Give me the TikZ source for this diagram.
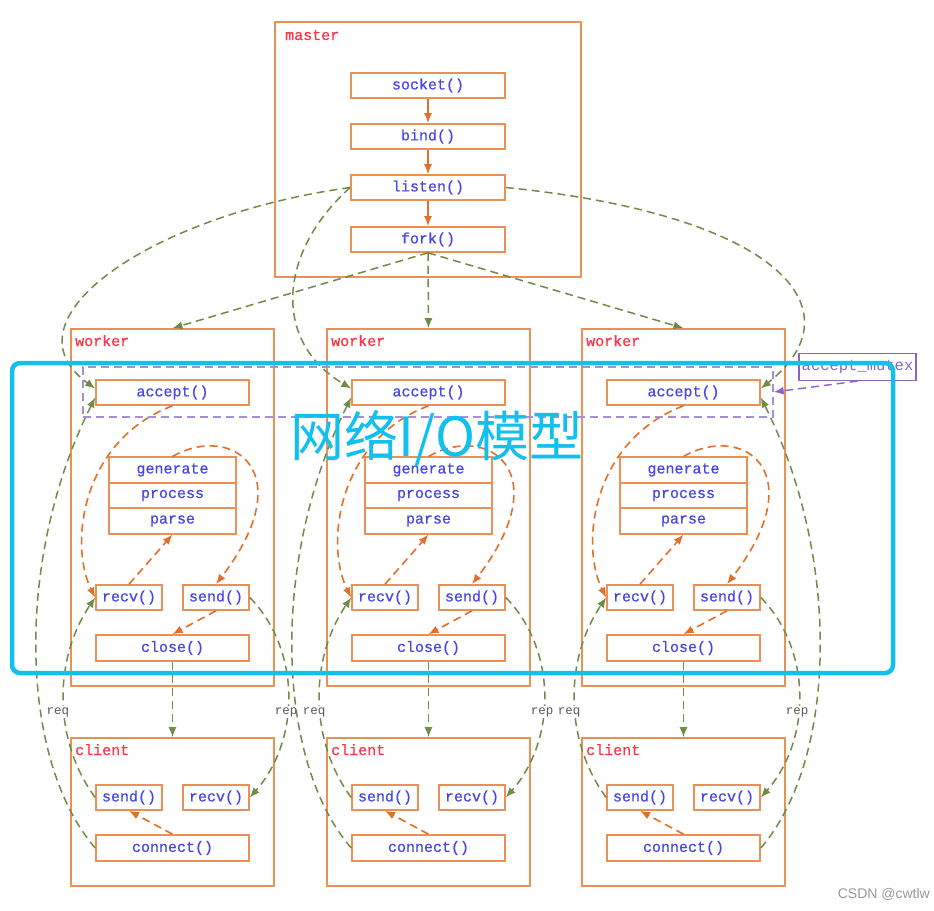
\documentclass[tikz,border=0pt]{standalone}
\usepackage{fontspec}
\setmainfont{Liberation Serif}
\newfontfamily\monof[FakeBold=0.6]{Liberation Mono}
\newfontfamily\labf{Liberation Mono}
\newfontfamily\cjkf{Noto Sans CJK SC}
\newfontfamily\sansf{Liberation Sans}
\usetikzlibrary{arrows.meta,calc}
\definecolor{boxor}{HTML}{EB9155}
\definecolor{arror}{HTML}{E0702A}
\definecolor{grn}{HTML}{6E8C46}
\definecolor{fnblue}{HTML}{4646E6}
\definecolor{ttlred}{HTML}{FF3246}
\definecolor{mpurple}{HTML}{A88ED6}
\definecolor{lpurple}{HTML}{8A66C2}
\definecolor{cyanc}{HTML}{12C0EE}
\begin{document}
\begin{tikzpicture}[x=1pt,y=-1pt,
  fn/.style={draw=boxor, line width=1.6pt, fill=white, text=fnblue,
    font=\monof\fontsize{15}{16}\selectfont, inner sep=0pt, minimum height=25pt},
  procbox/.style={draw=boxor, line width=1.6pt, inner sep=0pt},
  ttl/.style={text=ttlred, font=\monof\fontsize{15}{16}\selectfont, anchor=base west, inner sep=0pt},
  flow/.style={draw=arror, line width=1.6pt, -{Latex[length=10pt,width=8pt]}},
  oflow/.style={flow, dash pattern=on 8pt off 5pt},
  gflow/.style={draw=grn, line width=1.5pt, dash pattern=on 8pt off 5pt, -{Latex[length=10pt,width=8pt]}},
  lab/.style={text=black!65, font=\labf\fontsize{12.5}{13}\selectfont, fill=white, inner sep=1pt}]
\useasboundingbox (0,0) rectangle (934,910);
\fill[white] (0,0) rectangle (934,910);

% master
\node[procbox, minimum width=306pt, minimum height=255pt] (master) at (428,149.5) {};
\node[ttl] (mt) at (285,40) {master};
\node[fn, minimum width=154pt] (socket) at (428,85.5) {socket()};
\node[fn, minimum width=154pt] (bind) at (428,136.5) {bind()};
\node[fn, minimum width=154pt] (listen) at (428,187.5) {listen()};
\node[fn, minimum width=154pt] (fork) at (428,239.5) {fork()};
\draw[flow] (socket) -- (bind);
\draw[flow] (bind) -- (listen);
\draw[flow] (listen) -- (fork);

\foreach \i/\dx in {1/0,2/256,3/511}{
  \node[procbox, minimum width=203pt, minimum height=357pt] (work\i) at ({172.5+\dx},507.5) {};
  \node[ttl] (wt\i) at ({75+\dx},346) {worker};
  \node[fn, minimum width=153pt] (acc\i) at ({172.5+\dx},392.5) {accept()};
  \node[fn, minimum width=127pt, minimum height=25.5pt] (gen\i) at ({172.5+\dx},470) {generate};
  \node[fn, minimum width=127pt, minimum height=25.5pt] (proc\i) at ({172.5+\dx},495.5) {process};
  \node[fn, minimum width=127pt, minimum height=25.5pt] (parse\i) at ({172.5+\dx},521) {parse};
  \node[fn, minimum width=66pt] (recv\i) at ({129+\dx},597.5) {recv()};
  \node[fn, minimum width=66pt] (send\i) at ({216+\dx},597.5) {send()};
  \node[fn, minimum width=153pt, minimum height=26pt] (close\i) at ({172.5+\dx},648) {close()};
  % client
  \node[procbox, minimum width=203pt, minimum height=148pt] (cli\i) at ({172.5+\dx},812) {};
  \node[ttl] (ct\i) at ({75+\dx},755) {client};
  \node[fn, minimum width=66pt] (csend\i) at ({129+\dx},797.5) {send()};
  \node[fn, minimum width=66pt] (crecv\i) at ({216+\dx},797.5) {recv()};
  \node[fn, minimum width=153pt, minimum height=26pt] (conn\i) at ({172.5+\dx},848) {connect()};
  % inner flows
  \draw[oflow] (acc\i.south) .. controls +(-92,35) and +(-26,-52) .. (recv\i.west);
  \draw[oflow] (recv\i.north) -- (parse\i.south);
  \draw[oflow] (gen\i.north) .. controls +(60,-34) and +(86,-112) .. (send\i.north);
  \draw[oflow] (send\i.south) -- (close\i.north);
  \draw[gflow] (close\i.south) -- (cli\i.north);
  \draw[oflow] (conn\i.north) -- (csend\i.south);
  % req / rep
  \draw[gflow] (csend\i.west) .. controls +(-42,-57) and +(-42,62) .. (recv\i.west);
  \node[lab] (req\i) at ({58+\dx},712) {req};
  \draw[gflow] (send\i.east) .. controls +(51,52) and +(51,-58) .. (crecv\i.east);
  \node[lab] (rep\i) at ({286+\dx},712) {rep};
}
% connect -> accept
\draw[gflow] (conn1.west) .. controls +(-76,-88) and +(-81,162) .. ($(acc1.west)+(0,5)$);
\draw[gflow] (conn2.west) .. controls +(-76,-88) and +(-81,162) .. ($(acc2.west)+(0,5)$);
\draw[gflow] (conn3.east) .. controls +(76,-88) and +(81,162) .. ($(acc3.east)+(0,5)$);
% listen -> accept
\draw[gflow] (listen.west) .. controls (150,215) and (0,320) .. ($(acc1.west)+(0,-4)$);
\draw[gflow] (listen.west) .. controls (280,250) and (270,340) .. ($(acc2.west)+(0,-4)$);
\draw[gflow] (listen.east) .. controls (780,215) and (860,310) .. ($(acc3.east)+(0,-4)$);
% fork -> workers
\draw[gflow] (fork.south) -- (work1.north);
\draw[gflow] (fork.south) -- (work2.north);
\draw[gflow] (fork.south) -- (work3.north);

% accept mutex
\node[draw=mpurple, line width=1.5pt, dash pattern=on 8pt off 5pt, minimum width=690pt, minimum height=50pt, inner sep=0pt] (mutex) at (428,392) {};
\node[draw=lpurple, line width=1.3pt, fill=white, text=lpurple, font=\labf\fontsize{15.5}{16}\selectfont, minimum width=117pt, minimum height=27pt, inner sep=0pt] (mlab) at (857.5,367) {accept\_mutex};
\draw[draw=lpurple, line width=1.4pt, dash pattern=on 8pt off 5pt, -{Latex[length=10pt,width=8pt]}] (mlab.south) -- (mutex.east);

% overlay
\node[draw=cyanc, line width=4.5pt, rounded corners=8pt, minimum width=881pt, minimum height=310pt, inner sep=0pt] (netbox) at (452.5,518) {};
\node[text=cyanc, font=\cjkf\fontsize{54}{60}\selectfont, inner sep=0pt] (nettitle) at (437,438) {网络I/O模型};
\node[text=black!40, font=\sansf\fontsize{14}{16}\selectfont, anchor=base east, inner sep=0pt] (wm) at (930,898) {CSDN @cwtlw};
\end{tikzpicture}
\end{document}
